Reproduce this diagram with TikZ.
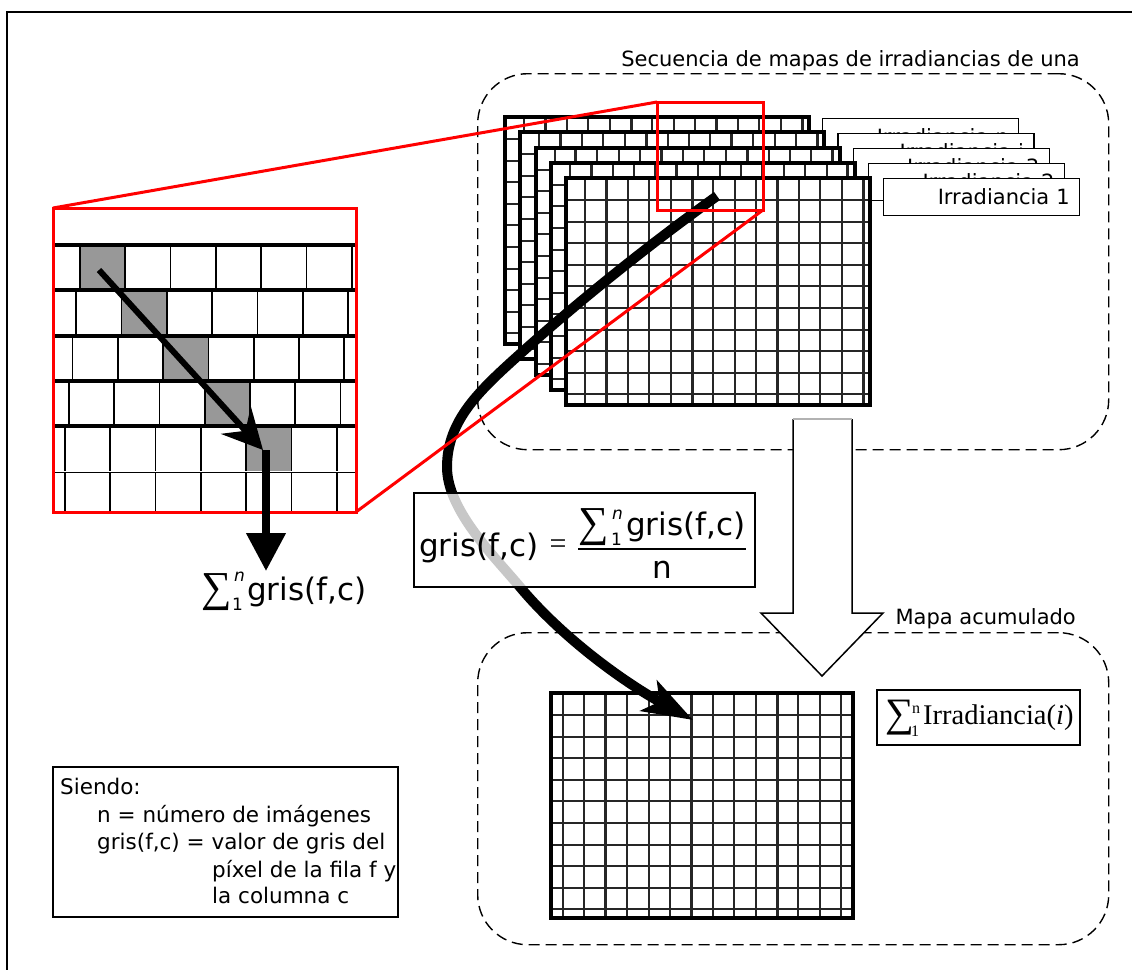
\documentclass[tikz,border=0pt]{standalone}
\usepackage{fontspec}
\usepackage{graphicx}
\setmainfont{DejaVu Sans}
\newfontfamily\tmsfont{Liberation Serif}
\usetikzlibrary{arrows.meta}
\definecolor{cellgray}{RGB}{152,152,152}

\tikzset{
  gridline/.style={line width=2pt, black!85},
  gridborder/.style={line width=4pt, black},
  irrlabel/.style={draw, line width=1.3pt, fill=white, minimum width=196pt, minimum height=37pt,
    anchor=north west, inner sep=0pt, text width=176pt, align=right, font=\fontsize{21}{21}\selectfont},
  dashedregion/.style={draw, dash pattern=on 11pt off 6pt, line width=1.4pt, rounded corners=50pt,
    anchor=north west, inner sep=0pt},
  smalltext/.style={inner sep=0pt, font=\fontsize{21}{21}\selectfont},
  legtext/.style={inner sep=0pt, font=\fontsize{21.5}{21.5}\selectfont},
  bigtext/.style={inner sep=0pt, font=\fontsize{31}{31}\selectfont},
  limtext/.style={inner sep=0pt, font=\fontsize{17}{17}\selectfont},
  redline/.style={draw=red, line width=3pt},
  pixline/.style={line width=1.7pt, black},
  thinbox/.style={draw, line width=1.3pt, anchor=north west, inner sep=0pt, outer sep=0pt},
}

\newcommand{\pixgrid}[8]{%
  \node[inner sep=0pt, outer sep=0pt, minimum width=#4pt, minimum height=#5pt, anchor=north west, fill=white] (#1) at (#2,#3) {};
  \begin{scope}[shift={(#2,#3)}]
    \foreach \k in {0,...,13}{%
      \pgfmathsetmacro{\lw}{(int(mod(\k,4))==#8) ? 3 : 2}%
      \draw[gridline, line width=\lw pt] ({#6+21.4*\k},0) -- ({#6+21.4*\k},#5);
    }
    \foreach \k in {0,...,9}{%
      \draw[gridline] (0,{#7+21.6*\k}) -- (#4,{#7+21.6*\k});
    }
  \end{scope}
  \draw[gridborder] (#1.north west) rectangle (#1.south east);
}

\begin{document}
\begin{tikzpicture}[x=1pt,y=-1pt]
\useasboundingbox (0,0) rectangle (1132,969);

% outer frame (only top and left visible)
\coordinate (fbl) at (7,985);
\coordinate (ftl) at (7,12);
\coordinate (ftr) at (1150,12);
\draw[line width=1.7pt] (fbl) -- (ftl) -- (ftr);

% dashed regions
\node[dashedregion, minimum width=631pt, minimum height=376pt] (seqreg) at (477,73) {};
\node[dashedregion, minimum width=631pt, minimum height=312pt] (accreg) at (477,632) {};
\node[smalltext, anchor=base east] (seqtitle) at (1080,66) {Secuencia de mapas de irradiancias de una};
\node[smalltext, anchor=base east] (acctitle) at (1076,624) {Mapa acumulado};

% stacked irradiance maps
\foreach \i/\txt in {0/n,1/i,2/3,3/2,4/1}{
  \pixgrid{g\i}{505+15.25*\i}{117+15.25*\i}{304}{227}{19}{22}{1}
  \node[irrlabel] (lab\i) at (822+15.25*\i,118+15*\i) {Irradiancia \txt};
}

% accumulated map
\pixgrid{gacc}{551}{693}{302}{225}{12}{22}{2}
\node[thinbox, minimum width=203pt, minimum height=55pt] (sumbox) at (877,690) {};
\node[anchor=north west, inner sep=0pt] (sumsig) at (885,700) {\resizebox*{!}{35pt}{\tmsfont ∑}};
\node[anchor=base west, inner sep=0pt, font=\tmsfont\fontsize{16}{16}\selectfont] (sumsub) at (911,736) {1};
\node[anchor=base west, inner sep=0pt, font=\tmsfont\fontsize{16}{16}\selectfont] (sumsup) at (912,713) {n};
\node[anchor=base west, inner sep=0pt, font=\tmsfont\fontsize{28.5}{28.5}\selectfont] (sumtxt) at (923,724) {Irradiancia(\textit{i})};

% hollow arrow
\coordinate (ha1) at (793,419);
\coordinate (ha2) at (793,613);
\coordinate (ha3) at (761,613);
\coordinate (ha4) at (822,676);
\coordinate (ha5) at (883,613);
\coordinate (ha6) at (852,613);
\coordinate (ha7) at (852,419);
\filldraw[fill=white, draw=black, line width=1.5pt] (ha1) -- (ha2) -- (ha3) -- (ha4) -- (ha5) -- (ha6) -- (ha7);
\draw[black!30, line width=1.5pt] (ha1) -- (ha7);

% zoomed panel
\node[inner sep=0pt, outer sep=0pt, minimum width=303pt, minimum height=304pt, anchor=north west, fill=white] (zpanel) at (53,208) {};
\foreach \r in {0,...,4}{
  \fill[cellgray] ({80-3.75*\r+45.3*\r},{245+45.25*\r}) rectangle ++(45.3,45.25);
}
\foreach \r in {0,...,4}{
  \foreach \k in {0,...,6}{
    \draw[pixline] ({80-3.75*\r+45.3*\k},{245+45.25*\r}) -- ({80-3.75*\r+45.3*\k},{290.25+45.25*\r});
  }
}
\foreach \k in {0,...,6}{
  \draw[pixline] ({65+45.3*\k},472) -- ({65+45.3*\k},512);
}
\foreach \r in {0,...,4}{
  \draw[line width=4pt] (55,{245+45.25*\r}) -- (355,{245+45.25*\r});
}
\draw[line width=1pt] (53,472) -- (356,472);
\draw[redline] (zpanel.north west) rectangle (zpanel.south east);

% arrows in the zoomed panel
\coordinate (za) at (99,270);
\coordinate (zb) at (263,450);
\draw[line width=6pt, -{Stealth[length=40pt,width=40pt,inset=14pt]}] (za) -- (zb);
\coordinate (va) at (266,450);
\coordinate (vb) at (266,571);
\draw[line width=7.5pt, -{Triangle[length=38pt,width=38pt]}] (va) -- (vb);

% sum below the panel
\node[anchor=north west, inner sep=0pt] (lsig) at (201,573) {\resizebox*{!}{37pt}{\tmsfont ∑}};
\node[limtext, anchor=base west] (lsub) at (232,610) {1};
\node[limtext, anchor=base west, font=\fontsize{17}{17}\selectfont\itshape] (lsup) at (234,581) {n};
\node[bigtext, anchor=base west] (lgris) at (247,600) {gris(f,c)};

% curved arrow
\coordinate (cs) at (717,196);
\coordinate (c1) at (520,354);
\coordinate (c2) at (447,467);
\coordinate (c3) at (520,587);
\coordinate (ce) at (693,720);
\draw[line width=10pt, -{Stealth[length=50pt,width=34pt,inset=12pt]}]
  (cs) .. controls (650,244) and (580,300) .. (c1)
       .. controls (480,390) and (447,420) .. (c2)
       .. controls (447,510) and (494,556) .. (c3)
       .. controls (560,635) and (620,680) .. (ce);

% red source box and zoom lines
\node[draw=red, line width=3pt, minimum width=106pt, minimum height=108pt, anchor=north west, inner sep=0pt, outer sep=0pt] (zsrc) at (657,102) {};
\draw[redline] (zpanel.north west) -- (zsrc.north west);
\draw[redline] (zpanel.south east) -- (zsrc.south east);

% formula box
\node[thinbox, fill=white, fill opacity=0.78, minimum width=341pt, minimum height=94pt] (formbox) at (414,493) {};
\node[bigtext, anchor=base west] (flhs) at (419,556) {gris(f,c)};
\node[inner sep=0pt, font=\tmsfont\fontsize{30}{30}\selectfont] (feq) at (558,547) {=};
\coordinate (fb1) at (578,549);
\coordinate (fb2) at (746,549);
\draw[line width=1.5pt] (fb1) -- (fb2);
\node[anchor=north west, inner sep=0pt] (fsig) at (578,508) {\resizebox*{!}{37pt}{\tmsfont ∑}};
\node[limtext, anchor=base west] (fsub) at (611,545) {1};
\node[limtext, anchor=base west, font=\fontsize{17}{17}\selectfont\itshape] (fsup) at (612,519) {n};
\node[bigtext, anchor=base west] (fnum) at (626,535) {gris(f,c)};
\node[bigtext, anchor=base] (fden) at (662,578) {n};

% legend
\node[thinbox, minimum width=345pt, minimum height=150pt] (legend) at (53,767) {};
\node[legtext, anchor=base west] (leg1) at (60,794) {Siendo:};
\node[legtext, anchor=base west] (leg2) at (97,822) {n = número de imágenes};
\node[legtext, anchor=base west] (leg3) at (97,849) {gris(f,c) = valor de gris del};
\node[legtext, anchor=base west] (leg4) at (212,877) {píxel de la fila f y};
\node[legtext, anchor=base west] (leg5) at (212,903) {la columna c};
\end{tikzpicture}
\end{document}
